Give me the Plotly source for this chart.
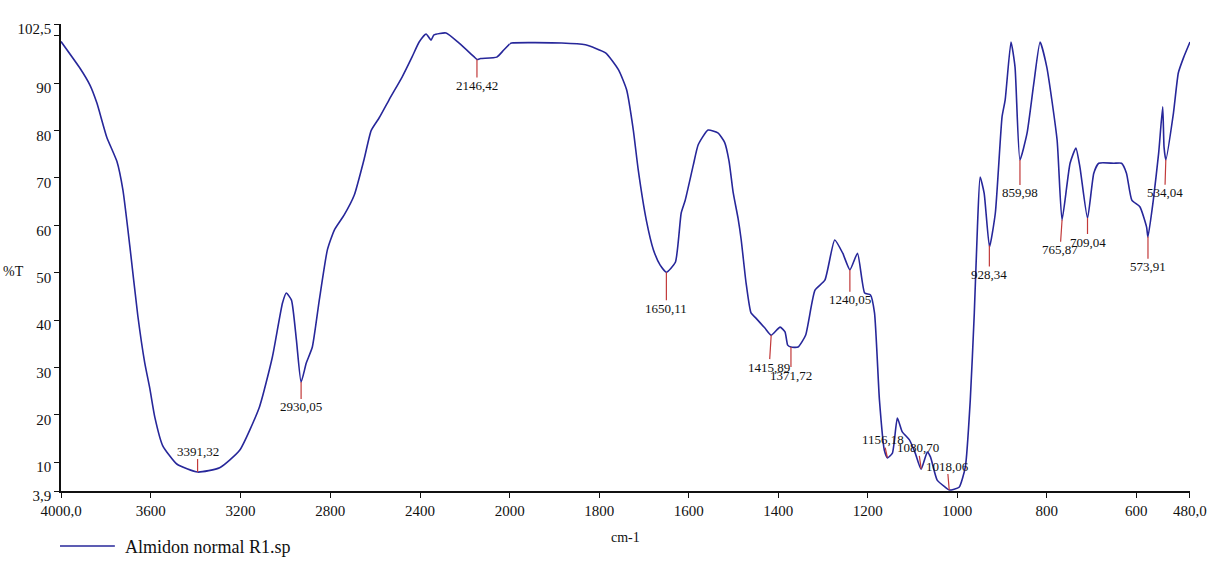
import numpy as np
import plotly.graph_objects as go

# FTIR spectrum of the starch sample (wavenumber in cm-1, transmittance in %T)
series_name = "Almidon normal R1.sp"

wavenumber = [
    4000, 3916, 3871, 3840, 3796, 3751, 3724, 3693, 3658, 3627, 3604, 3582, 3547,
    3484, 3391, 3293, 3204, 3116, 3058, 3013, 2996, 2973, 2951, 2930, 2907, 2880,
    2849, 2813, 2782, 2738, 2693, 2649, 2618, 2582, 2538, 2480, 2436, 2404, 2373,
    2351, 2338, 2284, 2227, 2160, 2146, 2130, 2058, 2027, 2000,
    1996, 1884, 1831, 1786, 1757, 1739, 1724, 1713, 1695, 1679, 1664, 1650, 1630,
    1617, 1608, 1590, 1579, 1557, 1535, 1520, 1510, 1501, 1490, 1483, 1472, 1461,
    1450, 1430, 1416, 1396, 1385, 1379, 1372, 1356, 1339, 1318, 1296, 1274, 1256,
    1240, 1223, 1207, 1194, 1185, 1174, 1163, 1156, 1145, 1134, 1123, 1107, 1094,
    1081, 1067, 1060, 1045, 1027, 1018, 996, 982, 971, 962, 955, 949, 940, 928, 915,
    900, 893, 880, 871, 860, 844, 829, 815, 800, 777, 766, 748, 735, 726, 709, 695,
    684, 650, 633, 622, 610, 592, 577, 574, 562, 550, 541, 538, 534, 517, 506, 494,
    480,
]
transmittance = [
    98.8, 93.2, 89.6, 85.8, 78.6, 73.5, 67.4, 55.5, 41.0, 31.0, 25.5, 19.5, 13.5,
    9.6, 7.9, 8.8, 12.5, 21.6, 32.2, 43.6, 45.7, 44.2, 35.8, 26.9, 30.9, 34.3,
    44.2, 54.8, 59.0, 62.2, 66.4, 74.0, 80.0, 82.7, 86.5, 91.3, 95.5, 98.7, 100.4,
    99.1, 100.2, 100.6, 98.5, 95.6, 95.0, 95.2, 95.5, 97.0, 98.3,
    98.5, 98.5, 98.1, 96.4, 92.8, 88.6, 80.1, 71.7, 61.1, 54.8, 51.6, 50.1, 52.2,
    62.6, 65.3, 72.7, 77.0, 80.1, 79.5, 77.5, 73.5, 67.0, 61.5, 57.0, 47.8, 41.5,
    40.4, 38.3, 36.8, 38.5, 37.5, 34.7, 34.3, 34.3, 36.8, 46.3, 48.4, 56.9, 54.1,
    50.6, 54.1, 45.7, 45.3, 41.5, 23.1, 12.5, 10.9, 11.9, 19.3, 16.4, 14.7, 11.9,
    8.5, 12.1, 11.1, 6.2, 4.7, 4.1, 4.7, 9.0, 23.1, 41.5, 59.6, 70.2, 66.8, 55.4,
    62.6, 82.9, 86.5, 98.7, 93.4, 73.8, 79.5, 90.0, 98.7, 93.4, 78.0, 61.1, 73.1,
    76.3, 72.3, 61.5, 71.0, 73.1, 73.1, 73.1, 71.0, 65.3, 63.9, 59.6, 57.5, 65.3,
    75.3, 85.0, 76.5, 73.8, 83.7, 92.2, 95.5, 98.7,
]

# Marked absorption bands
peak_wn = [3391.32, 2930.05, 2146.42, 1650.11, 1415.89, 1371.72, 1240.05,
           1156.18, 1080.70, 1018.06, 928.34, 859.98, 765.87, 709.04, 573.91, 534.04]
peak_text = ["3391,32", "2930,05", "2146,42", "1650,11", "1415,89", "1371,72",
             "1240,05", "1156,18", "1080,70", "1018,06", "928,34", "859,98",
             "765,87", "709,04", "573,91", "534,04"]

# Axis ticks
y_ticks = [3.9, 10, 20, 30, 40, 50, 60, 70, 80, 90, 100, 102.5]
y_ticktext = ["3,9", "10", "20", "30", "40", "50", "60", "70", "80", "90", "", "102,5"]
x_hi_ticks = [4000, 3600, 3200, 2800, 2400]
x_hi_ticktext = ["4000,0", "3600", "3200", "2800", "2400"]
x_lo_ticks = [2000, 1800, 1600, 1400, 1200, 1000, 800, 600, 480]
x_lo_ticktext = ["2000", "1800", "1600", "1400", "1200", "1000", "800", "600", "480,0"]

# Label offsets (pixels) from each band's point on the curve
label_dx = [0, 0, 0, 0, -2, 0, 0, -4, -3, -2, 0, 0, -2, 0, 0, -1]
label_dy = [-21, 25, 26, 36, 32, 28, 30, -18, -21, -24, 29, 33, 30, 24, 30, 33]

W, H = 1219, 563
L, R, T, B = 61, 26, 24, 72
plot_w = W - L - R
plot_h = H - T - B
split = 450 / plot_w  # the scale doubles below 2000 cm-1

LINE = "#27279a"
RED = "#c23a3a"
FONT = "Liberation Serif, 'Times New Roman', DejaVu Serif, serif"

wn = np.array(wavenumber, dtype=float)
tr = np.array(transmittance, dtype=float)
hi = wn >= 2000
lo = wn <= 2000

line_style = dict(color=LINE, width=1.6, shape="spline", smoothing=0.5)
fig = go.Figure()
fig.add_trace(go.Scatter(x=wn[hi], y=tr[hi], mode="lines", name=series_name,
                         line=line_style, xaxis="x", yaxis="y", showlegend=False))
fig.add_trace(go.Scatter(x=wn[lo], y=tr[lo], mode="lines", name=series_name,
                         line=line_style, xaxis="x2", yaxis="y", showlegend=False))

annotations = []
for w, txt, dx, dy in zip(peak_wn, peak_text, label_dx, label_dy):
    yv = float(np.interp(w, wn[::-1], tr[::-1]))
    annotations.append(dict(
        x=w, y=yv, xref="x" if w > 2000 else "x2", yref="y",
        text=txt, showarrow=True, arrowhead=0, arrowwidth=1.2, arrowcolor=RED,
        ax=dx, ay=dy, standoff=0, borderpad=0,
        font=dict(family=FONT, size=13, color="#111"),
    ))


def px_x(p):
    return (p - L) / plot_w


def px_y(p):
    return (H - B - p) / plot_h


annotations += [
    dict(x=px_x(627), y=px_y(537), xref="paper", yref="paper", text="cm-1",
         showarrow=False, font=dict(family=FONT, size=14, color="#111"),
         xanchor="center", yanchor="middle"),
    dict(x=px_x(26), y=px_y(271), xref="paper", yref="paper", text="%T",
         showarrow=False, font=dict(family=FONT, size=14, color="#111"),
         xanchor="right", yanchor="middle"),
    dict(x=px_x(123), y=px_y(547), xref="paper", yref="paper", text=series_name,
         showarrow=False, font=dict(family=FONT, size=18, color="#111"),
         xanchor="left", yanchor="middle"),
]

shapes = [dict(type="line", xref="paper", yref="paper",
               x0=px_x(60), x1=px_x(115), y0=px_y(546), y1=px_y(546),
               line=dict(color=LINE, width=1.6))]

axis_common = dict(showline=True, linecolor="#111", linewidth=1.5, ticks="outside",
                   ticklen=5, tickcolor="#111", tickwidth=1.2, showgrid=False,
                   zeroline=False, tickfont=dict(family=FONT, size=15, color="#111"))

fig.update_layout(
    width=W, height=H,
    margin=dict(l=L, r=R, t=T, b=B),
    paper_bgcolor="white", plot_bgcolor="white",
    font=dict(family=FONT),
    xaxis=dict(domain=[0, split], range=[4000, 2000], tickmode="array",
               tickvals=x_hi_ticks, ticktext=x_hi_ticktext, anchor="y", **axis_common),
    xaxis2=dict(domain=[split, 1], range=[2000, 480], tickmode="array",
                tickvals=x_lo_ticks, ticktext=x_lo_ticktext, anchor="y", **axis_common),
    yaxis=dict(range=[3.9, 102.5], tickmode="array", tickvals=y_ticks,
               ticktext=y_ticktext, ticklabelshift=5, **axis_common),
    annotations=annotations,
    shapes=shapes,
    showlegend=False,
)

fig.write_html("out.html")
